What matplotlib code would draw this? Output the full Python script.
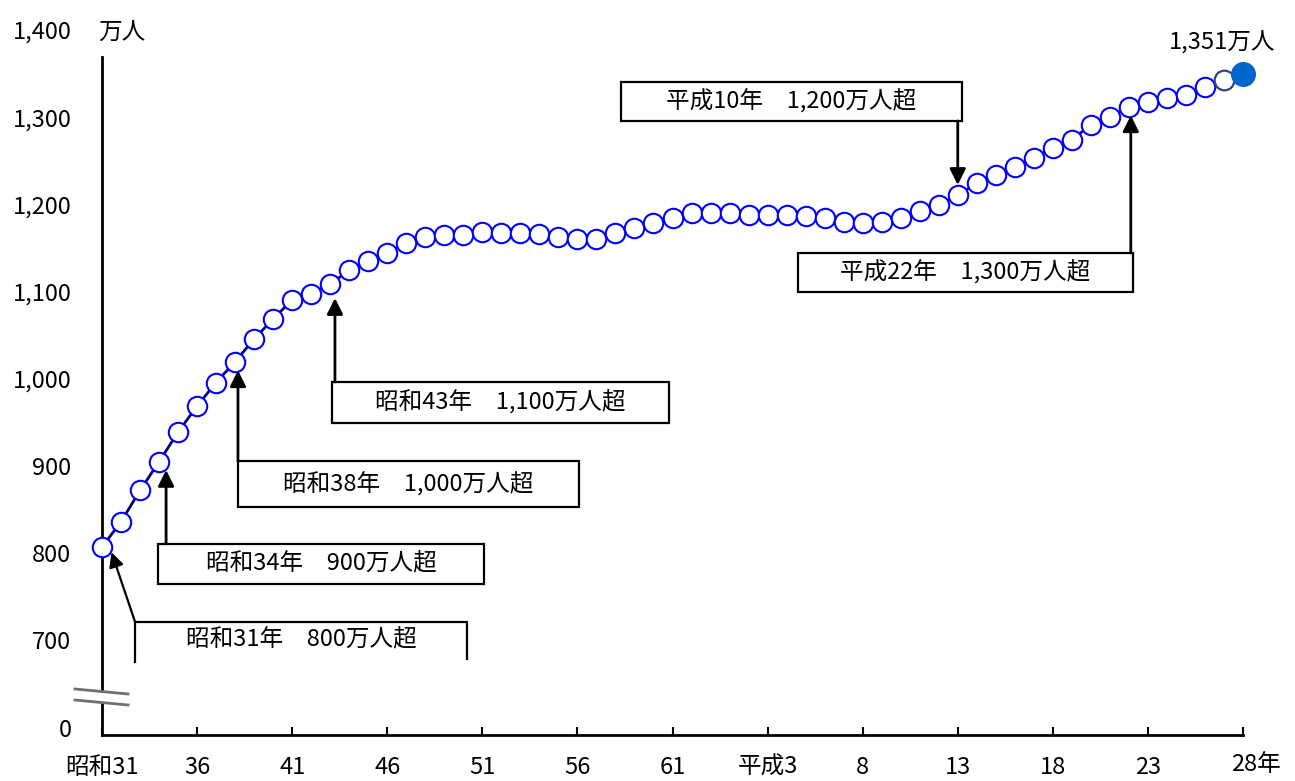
import numpy as np
import matplotlib
matplotlib.use("Agg")
import matplotlib.pyplot as plt
from matplotlib.patches import Rectangle, Polygon
from matplotlib.lines import Line2D
from matplotlib.transforms import ScaledTranslation

plt.rcParams['font.family'] = ['Noto Sans CJK JP', 'DejaVu Sans']

# population (万人), 昭和31年 .. 平成28年
years = np.arange(1956, 2017)
population = [807, 836, 872, 905, 939, 969, 996, 1020, 1046, 1069, 1091, 1098, 1109,
              1125, 1136, 1145, 1156, 1163, 1166, 1166, 1169, 1168, 1168, 1167, 1163,
              1161, 1161, 1168, 1174, 1179,
              1185, 1191, 1191, 1191, 1188, 1188, 1188, 1187, 1185, 1180, 1179, 1180,
              1185, 1193, 1200, 1211,
              1225, 1234, 1244, 1254, 1266, 1275, 1292, 1301, 1313, 1318, 1323, 1326,
              1336, 1344, 1351]

xtick_years = [1956, 1961, 1966, 1971, 1976, 1981, 1986, 1991, 1996, 2001, 2006, 2011, 2016]
xtick_labels = ['昭和31', '36', '41', '46', '51', '56', '61', '平成3', '8', '13', '18', '23', '']
ytick_values = [599, 700, 800, 900, 1000, 1100, 1200, 1300]
ytick_labels = ['0', '700', '800', '900', '1,000', '1,100', '1,200', '1,300']

# (text, box x0, x1, y0, y1, arrow x start, y start, x tip, y tip)
notes = [
    ('平成10年　1,200万人超', 1983.3, 2001.2, 1296.5, 1341.3, 2001.0, 1296.5, 2001.0, 1223),
    ('平成22年　1,300万人超', 1992.6, 2010.2, 1100.0, 1144.8, 2010.1, 1144.8, 2010.1, 1303),
    ('昭和43年　1,100万人超', 1968.1, 1985.8, 949.5, 996.6, 1968.25, 996.6, 1968.25, 1093),
    ('昭和38年　1,000万人超', 1963.15, 1981.1, 853.0, 905.8, 1963.15, 905.8, 1963.15, 1010),
    ('昭和34年　900万人超', 1958.94, 1976.1, 764.5, 810.5, 1959.37, 810.5, 1959.37, 895.5),
]

FS = 17
W, H = 1295, 781
fig = plt.figure(figsize=(W / 100, H / 100), dpi=100)
ax = fig.add_axes([102 / W, (H - 735) / H, 1141 / W, 678 / H])
ax.set_xlim(1956, 2016)
ax.set_ylim(591, 1370)

ax.plot(years[:-1], population[:-1], color='#000080', lw=2, marker='o', ms=14,
        mfc='white', mec='#0000ff', mew=1.5, zorder=3, clip_on=False)
ax.plot(years[-2:], population[-2:], color='#000080', lw=2, zorder=2, clip_on=False)
ax.plot(years[-2], population[-2], marker='o', ms=14, mfc='white', mec='#3a4a70',
        mew=1.5, zorder=4, clip_on=False)
ax.plot(years[-1], population[-1], marker='o', ms=17, mfc='#0066cc', mec='#0066cc',
        zorder=5, clip_on=False)

for spine in ['top', 'right']:
    ax.spines[spine].set_visible(False)
for spine in ['left', 'bottom']:
    ax.spines[spine].set_linewidth(2)

ax.set_xticks(xtick_years)
ax.set_xticklabels(xtick_labels)
ax.set_yticks(ytick_values)
ax.set_yticklabels(ytick_labels)
ax.tick_params(axis='both', direction='in', length=6, width=1.5, labelsize=FS)
ax.tick_params(axis='y', pad=22, length=0)
ax.tick_params(axis='x', pad=15)
ax.text(2016, 591, '28年', fontsize=FS, ha='left', va='center',
        transform=ax.transData + ScaledTranslation(-12 / 100, -30 / 100, fig.dpi_scale_trans))

for (label, x0, x1, y0, y1, ax0, ay0, ax1, ay1) in notes:
    ax.add_patch(Rectangle((x0, y0), x1 - x0, y1 - y0, fc='white', ec='black', lw=1.6, zorder=6))
    ax.text((x0 + x1) / 2, (y0 + y1) / 2, label, ha='center', va='center', fontsize=FS, zorder=7)
    ax.annotate('', xy=(ax1, ay1), xytext=(ax0, ay0),
                arrowprops=dict(arrowstyle='-|>', color='black', lw=2, mutation_scale=24,
                                shrinkA=0, shrinkB=0), zorder=6)

# 昭和31年 box, open at the bottom
x0, x1, y0, y1 = 1957.74, 1975.2, 674.9, 720.8
ax.plot([x0, x0, x1, x1], [y0, y1, y1, y0 + 3], color='black', lw=1.6, zorder=6, clip_on=False)
ax.text((x0 + x1) / 2, 700, '昭和31年　800万人超', ha='center', va='center', fontsize=FS, zorder=7)
ax.annotate('', xy=(1956.5, 801), xytext=(x0, y1),
            arrowprops=dict(arrowstyle='-|>', color='black', lw=1.6, mutation_scale=22,
                            shrinkA=0, shrinkB=0), zorder=6)

# axis break on the y axis
def px(x, y):
    return (x / W, 1 - y / H)

gap = Polygon([px(88, 690), px(118, 694), px(118, 704), px(88, 700)], closed=True,
              transform=fig.transFigure, fc='white', ec='none', zorder=10)
fig.add_artist(gap)
for yy in (689, 700):
    fig.add_artist(Line2D([75 / W, 128 / W], [1 - yy / H, 1 - (yy + 5) / H],
                          transform=fig.transFigure, color='#707070', lw=2, zorder=11))

fig.text(72 / W, 1 - 32 / H, '1,400', ha='right', va='center', fontsize=FS)
fig.text(122 / W, 1 - 32 / H, '万人', ha='center', va='center', fontsize=FS)
fig.text(1222 / W, 1 - 42 / H, '1,351万人', ha='center', va='center', fontsize=FS)

fig.savefig('out.png', dpi=100)
